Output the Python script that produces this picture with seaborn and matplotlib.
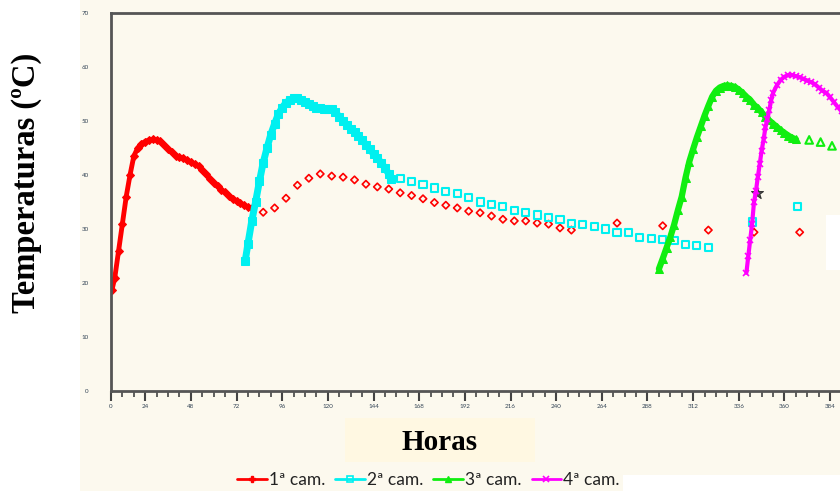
import pandas as pd
import matplotlib.pyplot as plt
import matplotlib.patches as mpatches
from matplotlib.lines import Line2D
from matplotlib.ticker import FixedLocator
import seaborn as sns

# 1a camada - leitura continua
h1 = [6.5, 8, 10, 12, 14, 16, 18, 20, 22, 24, 26, 28, 30, 32, 34, 36, 38, 40, 42, 44,
      46, 48, 50, 52, 54, 56, 58, 60, 62, 64, 66, 68, 70, 72, 74, 76, 78, 80]
t1 = [18.7, 21, 26, 31, 36, 40, 43.5, 45, 45.8, 46.2, 46.5, 46.6, 46.5, 46.3, 45.6, 44.8,
      44.2, 43.6, 43.3, 43.1, 42.7, 42.4, 42.0, 41.6, 40.9, 40.1, 39.3, 38.6, 37.9, 37.3,
      36.8, 36.2, 35.6, 35.1, 34.8, 34.4, 34.1, 33.9]
# 1a camada - leituras pontuais
h1s = [86, 92, 98, 104, 110, 116, 122, 128, 134, 140, 146, 152, 158, 164, 170, 176, 182,
       188, 194, 200, 206, 212, 218, 224, 230, 236, 242, 248, 272, 296, 320, 344, 368]
t1s = [33.1, 33.9, 35.7, 38.1, 39.4, 40.2, 39.8, 39.6, 39.1, 38.3, 37.8, 37.4, 36.7, 36.2,
       35.6, 34.9, 34.4, 33.9, 33.3, 33.0, 32.4, 31.8, 31.5, 31.5, 31.1, 30.9, 30.2, 29.8,
       31.1, 30.6, 29.8, 29.4, 29.4]

# 2a camada
h2 = [76.5, 78, 80, 82, 84, 86, 88, 90, 92, 94, 96, 98, 100, 102, 104, 106, 108, 110, 112,
      114, 116, 118, 120, 122, 124, 126, 128, 130, 132, 134, 136, 138, 140, 142, 144, 146,
      148, 150, 152, 153]
t2 = [24.0, 27.3, 31.5, 35.0, 38.8, 42.3, 45.0, 47.5, 49.5, 51.3, 52.5, 53.4, 53.9, 54.2,
      54.2, 53.9, 53.5, 53.1, 52.8, 52.5, 52.4, 52.3, 52.3, 52.2, 51.6, 50.8, 50.0, 49.3,
      48.6, 47.9, 47.2, 46.5, 45.6, 44.8, 43.9, 43.1, 42.3, 41.3, 40.2, 39.2]
h2s = [158, 164, 170, 176, 182, 188, 194, 200, 206, 212, 218, 224, 230, 236, 242, 248, 254,
       260, 266, 272, 278, 284, 290, 296, 302, 308, 314, 320, 343, 367]
t2s = [39.3, 38.8, 38.3, 37.6, 36.9, 36.5, 35.9, 35.0, 34.6, 34.1, 33.5, 33.1, 32.6, 32.2,
       31.8, 31.1, 30.9, 30.4, 30.0, 29.4, 29.3, 28.5, 28.3, 28.0, 27.8, 27.2, 26.9, 26.5,
       31.3, 34.1]

# 3a camada
h3 = [294, 296, 298, 300, 302, 304, 306, 308, 310, 312, 314, 316, 318, 320, 322, 324, 326,
      328, 330, 332, 334, 336, 338, 340, 342, 344, 346, 348, 350, 352, 354, 356, 358, 360,
      362, 364, 366]
t3 = [22.6, 24.5, 26.5, 28.5, 30.8, 33.5, 36.0, 39.5, 42.5, 44.8, 47.0, 49.0, 51.0, 52.8,
      54.5, 55.6, 56.2, 56.5, 56.6, 56.5, 56.3, 55.8, 55.2, 54.5, 53.9, 53.0, 52.4, 51.6,
      50.8, 50.1, 49.5, 48.9, 48.3, 47.8, 47.3, 46.9, 46.6]
h3s = [373, 379, 385]
t3s = [46.5, 46.1, 45.4]

# 4a camada
h4 = [340, 341, 342, 343, 344, 345, 346, 347, 348, 349, 350, 351, 352, 353, 354, 356, 358,
      360, 362, 364, 366, 368, 370, 372, 374, 376, 378, 380, 382, 384, 386, 388, 390]
t4 = [21.9, 25, 28, 31, 35, 37, 39.6, 42, 44.5, 46.5, 48.8, 50.3, 52.0, 53.8, 55.2, 56.6,
      57.6, 58.2, 58.5, 58.5, 58.3, 58.1, 57.8, 57.5, 57.2, 56.8, 56.2, 55.6, 55.2, 54.4,
      53.5, 52.6, 51.8]

# ponto isolado (asterisco escuro)
h5 = [345.5]
t5 = [36.7]

labels = ["1ª cam.", "2ª cam.", "3ª cam.", "4ª cam."]
colors = ["#ff0000", "#00f0f0", "#10ee10", "#ff00ff"]
xticks = [6] + list(range(24, 385, 24))
xticklabels = ["0"] + [str(v) for v in range(24, 385, 24)]

sns.set_style("white")
plt.rcParams["font.family"] = ["Lato", "DejaVu Sans"]

cream = "#fcf9ee"
fig = plt.figure(figsize=(8.4, 4.91), dpi=100, facecolor=cream)

# fundo: faixa branca a esquerda e canto inferior direito
fig.patches.append(mpatches.Rectangle((0, 0), 80 / 840, 1, transform=fig.transFigure,
                                      facecolor="white", edgecolor="none", zorder=0))
fig.patches.append(mpatches.Rectangle((623 / 840, 0), 1, 16 / 491, transform=fig.transFigure,
                                      facecolor="white", edgecolor="none", zorder=0))
fig.patches.append(mpatches.Rectangle((345 / 840, 29 / 491), 190 / 840, 44 / 491,
                                      transform=fig.transFigure, facecolor="#fff8e2",
                                      edgecolor="none", zorder=0))

ax = fig.add_axes([111 / 840, 100 / 491, 729 / 840, 378 / 491])
ax.set_facecolor(cream)

df1 = pd.DataFrame({"Horas": h1, "Temp": t1})
df2 = pd.DataFrame({"Horas": h2, "Temp": t2})
df3 = pd.DataFrame({"Horas": h3, "Temp": t3})
df4 = pd.DataFrame({"Horas": h4, "Temp": t4})

sns.lineplot(data=df1, x="Horas", y="Temp", color=colors[0], lw=3.5, marker="D", ms=4.5,
             mec=colors[0], sort=False, ax=ax)
sns.lineplot(data=df2, x="Horas", y="Temp", color=colors[1], lw=5, marker="s", ms=5.5,
             mec=colors[1], sort=False, ax=ax)
sns.lineplot(data=df3, x="Horas", y="Temp", color=colors[2], lw=4.5, marker="^", ms=5.5,
             mec=colors[2], sort=False, ax=ax)
sns.lineplot(data=df4, x="Horas", y="Temp", color=colors[3], lw=3, marker="x", ms=5,
             mew=1.2, mec=colors[3], sort=False, ax=ax)

sns.scatterplot(x=h1s, y=t1s, marker="D", s=14, facecolor="none", edgecolor=colors[0],
                linewidth=1.2, ax=ax)
sns.scatterplot(x=h2s, y=t2s, marker="s", s=26, facecolor="none", edgecolor=colors[1],
                linewidth=1.5, ax=ax)
sns.scatterplot(x=h3s, y=t3s, marker="^", s=30, facecolor="none", edgecolor=colors[2],
                linewidth=1.5, ax=ax)
sns.scatterplot(x=h5, y=t5, marker="*", s=80, color="#555555", edgecolor="#333333",
                linewidth=0.8, ax=ax)

ax.set_xlim(6, 389.2)
ax.set_ylim(0, 70)
ax.set_yticks(range(0, 71, 10))
ax.xaxis.set_major_locator(FixedLocator(xticks))
ax.set_xticklabels(xticklabels)
ax.xaxis.set_minor_locator(FixedLocator(list(range(12, 390, 6))))
ax.tick_params(axis="x", which="major", direction="out", length=7, width=1.5,
               color="#444444", labelsize=4.5, labelcolor="#334455", pad=2, bottom=True)
ax.tick_params(axis="x", which="minor", direction="out", length=4, width=1.2,
               color="#444444", bottom=True)
ax.tick_params(axis="y", length=0, labelsize=4.5, labelcolor="#334455", pad=16)

for side in ["left", "bottom", "top"]:
    ax.spines[side].set_color("#555555")
    ax.spines[side].set_linewidth(2)
ax.spines["right"].set_visible(False)

ax.set_xlabel("")
ax.set_ylabel("")
fig.text(0.523, 0.098, "Horas", ha="center", va="center", fontsize=21,
         fontweight="bold", family="Liberation Serif", color="black")
fig.text(0.032, 0.627, "Temperaturas (ºC)", rotation=90, ha="center", va="center",
         fontsize=23.5, fontweight="bold", family="Liberation Serif", color="black")

# patch branco junto ao canto direito
fig.patches.append(mpatches.Rectangle((826 / 840, 221 / 491), 14 / 840, 55 / 491,
                                      transform=fig.transFigure, facecolor="white",
                                      edgecolor="none", zorder=5))

handles = [
    Line2D([], [], color=colors[0], lw=2, marker="P", ms=5),
    Line2D([], [], color=colors[1], lw=2, marker="s", ms=4, mfc="none", mew=1.2),
    Line2D([], [], color=colors[2], lw=2, marker="^", ms=5),
    Line2D([], [], color=colors[3], lw=2, marker="x", ms=5, mew=1.2),
]
fig.legend(handles, labels, loc="center", bbox_to_anchor=(0.51, 0.022), ncol=4,
           frameon=False, fontsize=12.5, handlelength=1.7, handletextpad=0.1,
           columnspacing=0.6, labelcolor="#222222")

fig.savefig("out.png", dpi=100, facecolor=fig.get_facecolor())
